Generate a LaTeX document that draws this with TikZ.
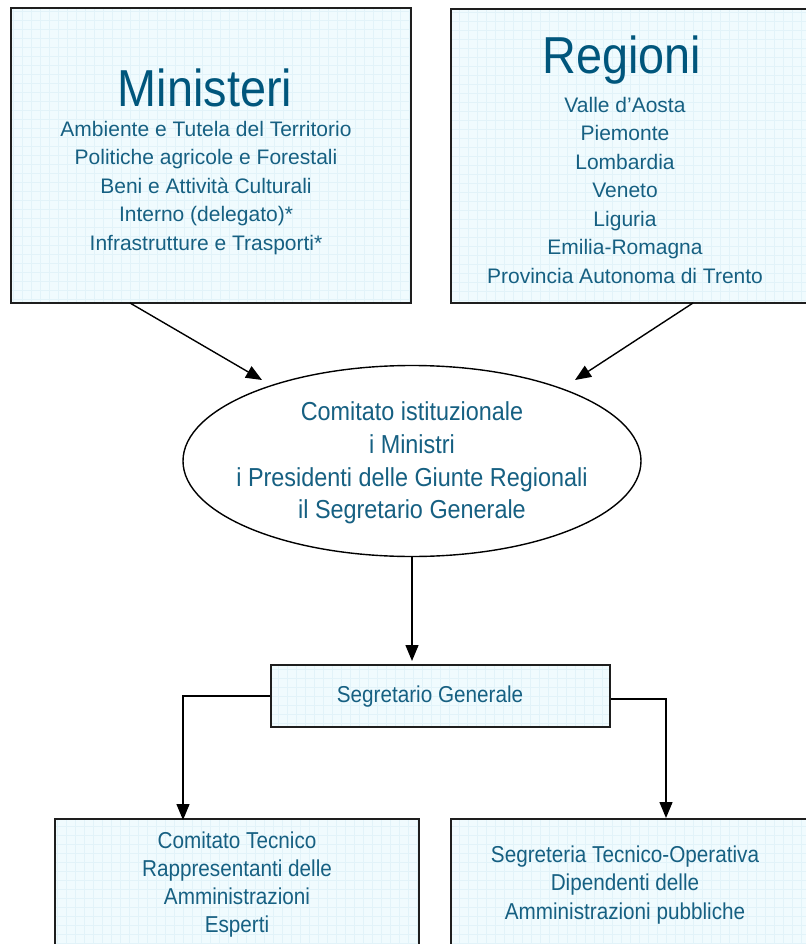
\documentclass[tikz,border=0pt]{standalone}
\usepackage{fontspec}
\setmainfont{Liberation Sans}
\newfontfamily\condfont[FakeStretch=0.9]{Liberation Sans}
\usetikzlibrary{arrows.meta,shapes.geometric}
\definecolor{txt}{RGB}{22,96,130}
\definecolor{titlec}{RGB}{0,86,124}
\definecolor{boxfill}{RGB}{240,251,254}
\definecolor{gridc}{RGB}{226,243,249}
\definecolor{boxline}{RGB}{30,30,30}
\begin{document}
\begin{tikzpicture}[x=1pt,y=-1pt,
  box/.style={rectangle, draw=boxline, line width=1.8pt, fill=boxfill, inner sep=0pt,
    path picture={\draw[gridc, line width=0.35pt] (path picture bounding box.south west) grid[step=9pt] (path picture bounding box.north east);}},
  arr/.style={draw=black, line width=1.4pt, -{Triangle[length=16pt,width=13pt]}},
  titletxt/.style={text=titlec, font=\condfont\fontsize{52}{60}\selectfont, inner sep=0pt},
  listtxt/.style={text=txt, font=\fontsize{21}{28.5}\selectfont, align=center, inner sep=0pt},
  elltxt/.style={text=txt, font=\condfont\fontsize{26}{32.7}\selectfont, align=center, inner sep=0pt},
  condtxt/.style={text=txt, font=\condfont\fontsize{23}{28.3}\selectfont, align=center, inner sep=0pt}]
\useasboundingbox (0,0) rectangle (805,944);
\fill[white] (0,0) rectangle (805,944);

% boxes
\node[box, minimum width=400pt, minimum height=295pt] (min) at (211,155.5) {};
\node[box, minimum width=358pt, minimum height=294pt] (reg) at (630,156) {};
\node[box, minimum width=339pt, minimum height=62pt] (sg) at (440.5,696) {};
\node[box, minimum width=364pt, minimum height=141pt] (ct) at (237,889.5) {};
\node[box, minimum width=358pt, minimum height=141pt] (st) at (630,889.5) {};
\node[ellipse, draw=black, line width=1.4pt, fill=white, minimum width=458pt, minimum height=191pt, inner sep=0pt] (ell) at (412,461) {};

% texts
\node[titletxt] (mintitle) at (205,88) {Ministeri};
\node[listtxt] (minlist) at (206,188) {Ambiente e Tutela del Territorio\\Politiche agricole e Forestali\\Beni e Attività Culturali\\Interno (delegato)*\\Infrastrutture e Trasporti*};
\node[titletxt] (regtitle) at (622,60) {Regioni};
\node[listtxt] (reglist) at (625,190) {Valle d'Aosta\\Piemonte\\Lombardia\\Veneto\\Liguria\\Emilia-Romagna\\Provincia Autonoma di Trento};
\node[elltxt] (elltext) at (412,463) {Comitato istituzionale\\i Ministri\\i Presidenti delle Giunte Regionali\\il Segretario Generale};
\node[condtxt] (sgtext) at (430,697) {Segretario Generale};
\node[condtxt] (cttext) at (237,884.5) {Comitato Tecnico\\Rappresentanti delle\\Amministrazioni\\Esperti};
\node[condtxt] (sttext) at (625,885) {Segreteria Tecnico-Operativa\\Dipendenti delle\\Amministrazioni pubbliche};

% connectors
\coordinate (a1) at (130,303);
\coordinate (a1t) at (262,380);
\coordinate (a2) at (693,303);
\coordinate (a2t) at (575,380);
\coordinate (ctop) at (412,661);
\coordinate (ctD) at (183,820);
\coordinate (ctE) at (666,818);
\draw[arr] (a1) -- (a1t);
\draw[arr] (a2) -- (a2t);
\draw[arr] (ell.south) -- (ctop);
\draw[arr] (sg.west) -| (ctD);
\draw[arr] ([yshift=-3pt]sg.east) -| (ctE);
\end{tikzpicture}
\end{document}
